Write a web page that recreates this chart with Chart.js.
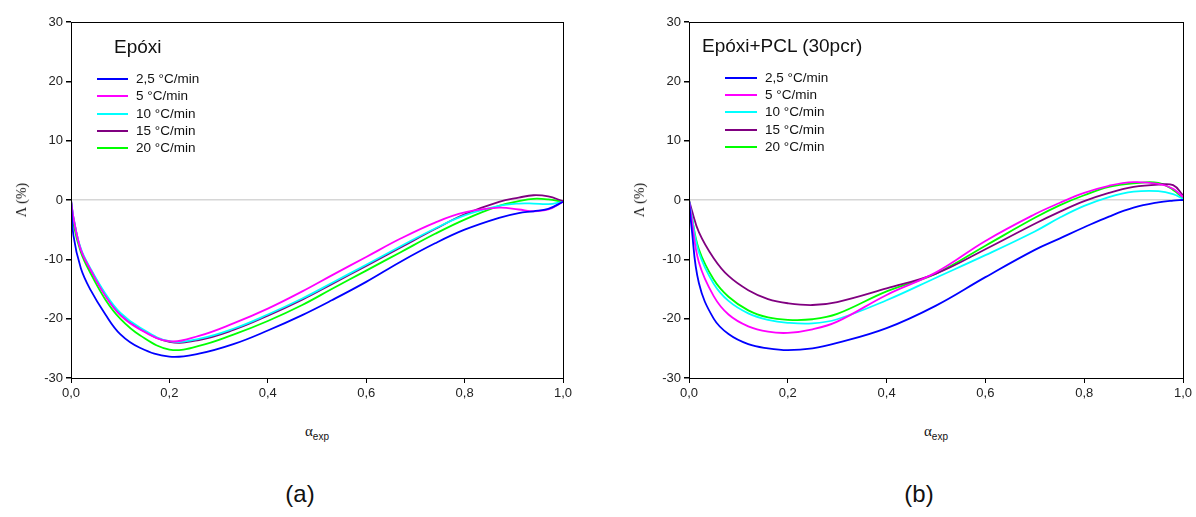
<!DOCTYPE html>
<html>
<head>
<meta charset="utf-8">
<script src="https://cdn.jsdelivr.net/npm/chart.js@4.4.0/dist/chart.umd.min.js"></script>
<style>
  body { margin: 0; background: #fff; font-family: "Liberation Sans", Arial, sans-serif; }
  #wrap { position: relative; width: 1196px; height: 517px; overflow: hidden; }
  canvas { position: absolute; top: 0; }
  .txt { position: absolute; white-space: nowrap; color: #111; line-height: 1; }
  .ytitle { font-family: "Liberation Serif", "DejaVu Serif", serif; font-size: 14px; transform: translate(-50%, -50%) rotate(-90deg); }
  .xtitle { font-family: "Liberation Serif", serif; font-size: 15px; transform: translateX(-50%); }
  .xtitle sub { font-family: "Liberation Sans", Arial, sans-serif; font-size: 10px; vertical-align: -4px; }
  .panel { font-size: 24px; transform: translateX(-50%); }
  .ltitle { font-size: 19px; transform: translateY(-50%); }
  .lrow { position: absolute; font-size: 13.5px; white-space: nowrap; color: #111; }
  .lrow span { position: absolute; top: 50%; height: 2px; margin-top: -1px; }
</style>
</head>
<body>
<div id="wrap">
  <canvas id="chartA" width="598" height="400" style="left:0"></canvas>
  <canvas id="chartB" width="598" height="400" style="left:598px"></canvas>
</div>
<script>
// series names and colours
const seriesLabels = ["2,5 °C/min", "5 °C/min", "10 °C/min", "15 °C/min", "20 °C/min"];
const seriesColors = ["#0000ff", "#ff00ff", "#00ffff", "#800080", "#00ff00"];

// (a) Epóxi
const alphaA = [0, 0.005, 0.02, 0.04, 0.07, 0.1, 0.14, 0.2, 0.26, 0.33, 0.4, 0.47, 0.53, 0.6, 0.67, 0.74, 0.8, 0.87, 0.91, 0.94, 0.97, 1.0];
const epoxi25 = [0, -6, -11.5, -15.2, -19.3, -22.6, -24.9, -26.4, -25.9, -24.3, -22.0, -19.4, -16.9, -13.8, -10.4, -7.3, -5.0, -3.0, -2.2, -1.9, -1.5, -0.3];
const epoxi5  = [0, -3, -8.4, -11.8, -16.2, -19.4, -21.8, -23.8, -22.9, -20.8, -18.3, -15.4, -12.7, -9.6, -6.5, -3.8, -2.1, -1.3, -1.6, -1.9, -1.6, -0.3];
const epoxi10 = [0, -3, -8.2, -11.6, -15.8, -19.0, -21.5, -23.8, -23.4, -21.7, -19.3, -16.6, -14.0, -10.9, -7.8, -4.8, -2.6, -1.0, -0.6, -0.6, -0.7, -0.3];
const epoxi15 = [0, -3, -8.4, -11.8, -16.0, -19.2, -21.7, -23.9, -23.6, -21.9, -19.5, -16.8, -14.2, -11.1, -8.0, -4.9, -2.4, -0.3, 0.4, 0.8, 0.6, -0.2];
const epoxi20 = [0, -4, -8.8, -12.4, -16.8, -20.0, -22.8, -25.2, -24.6, -22.7, -20.4, -17.7, -15.0, -11.9, -8.8, -5.7, -3.3, -1.0, -0.2, 0.2, 0.1, -0.3];

// (b) Epóxi+PCL (30pcr)
const alphaB = [0, 0.005, 0.02, 0.05, 0.08, 0.12, 0.16, 0.2, 0.25, 0.3, 0.4, 0.5, 0.6, 0.7, 0.75, 0.8, 0.85, 0.9, 0.95, 0.98, 1.0];
const pcl25 = [0, -4.5, -14.0, -20.0, -22.6, -24.3, -25.0, -25.3, -25.0, -24.1, -21.6, -17.8, -13.0, -8.4, -6.5, -4.6, -2.8, -1.3, -0.4, -0.1, 0];
const pcl5  = [0, -3, -10.5, -16.2, -19.3, -21.3, -22.2, -22.4, -21.8, -20.5, -16.0, -12.2, -6.9, -2.4, -0.5, 1.2, 2.4, 3.0, 2.7, 1.9, 0.5];
const pcl10 = [0, -2.5, -8.8, -14.1, -17.0, -19.1, -20.2, -20.7, -20.8, -20.1, -16.9, -13.1, -9.3, -5.3, -3.0, -1.0, 0.5, 1.4, 1.5, 1.0, 0.2];
const pcl15 = [0, -1.5, -5.4, -9.8, -12.8, -15.2, -16.7, -17.4, -17.7, -17.2, -14.9, -12.4, -8.3, -4.0, -2.0, -0.2, 1.2, 2.2, 2.6, 2.5, 0.8];
const pcl20 = [0, -2.5, -8.3, -13.4, -16.3, -18.6, -19.8, -20.2, -20.1, -19.2, -15.4, -12.4, -7.7, -3.0, -0.9, 0.8, 2.2, 2.8, 2.9, 1.7, 0.3];

const xTicks = [0, 0.2, 0.4, 0.6, 0.8, 1.0];
const yTicks = [-30, -20, -10, 0, 10, 20, 30];

const panels = [
  { id: "chartA", left: 0, title: "Epóxi", tag: "(a)", alpha: alphaA, series: [epoxi25, epoxi5, epoxi10, epoxi15, epoxi20],
    yWidth: 71, padRight: 35, legTitle: [114, 46], legLine: [97, 31], legText: 136, legRows: [79, 96, 114, 131, 148] },
  { id: "chartB", left: 598, title: "Epóxi+PCL (30pcr)", tag: "(b)", alpha: alphaB, series: [pcl25, pcl5, pcl10, pcl15, pcl20],
    yWidth: 91, padRight: 13, legTitle: [702, 45], legLine: [725, 32], legText: 765, legRows: [78, 95, 112, 130, 147] }
];

// box round the plot area
const framePlugin = {
  id: "frame",
  afterDraw(chart) {
    const a = chart.chartArea, c = chart.ctx;
    c.save();
    c.strokeStyle = "#000";
    c.lineWidth = 1;
    c.strokeRect(Math.round(a.left) + 0.5, Math.round(a.top) + 0.5, Math.round(a.right - a.left), Math.round(a.bottom - a.top));
    c.restore();
  }
};

const wrap = document.getElementById("wrap");
function addText(cls, html, x, y) {
  const d = document.createElement("div");
  d.className = "txt " + cls;
  d.innerHTML = html;
  d.style.left = x + "px";
  d.style.top = y + "px";
  wrap.appendChild(d);
  return d;
}

panels.forEach(p => {
  new Chart(document.getElementById(p.id), {
    type: "line",
    data: {
      datasets: p.series.map((vals, i) => ({
        label: seriesLabels[i],
        data: vals.map((v, k) => ({ x: p.alpha[k], y: v })),
        borderColor: seriesColors[i],
        borderWidth: 1.8,
        pointRadius: 0,
        fill: false,
        tension: 0.4
      }))
    },
    options: {
      responsive: false,
      animation: false,
      layout: { padding: { top: 22, right: p.padRight, left: 0, bottom: 0 } },
      plugins: { legend: { display: false }, tooltip: { enabled: false } },
      scales: {
        x: {
          type: "linear", min: 0, max: 1,
          afterBuildTicks: s => { s.ticks = xTicks.map(v => ({ value: v })); },
          afterFit: s => { s.height = 22; },
          ticks: { color: "#222", font: { family: "Liberation Sans", size: 13 }, padding: 3, maxRotation: 0,
            callback: v => v.toFixed(1).replace(".", ",") },
          grid: { drawOnChartArea: false, tickLength: 5, tickColor: "#000" },
          border: { color: "#000" }
        },
        y: {
          min: -30, max: 30,
          afterBuildTicks: s => { s.ticks = yTicks.map(v => ({ value: v })); },
          afterFit: s => { s.width = p.yWidth; },
          ticks: { color: "#222", font: { family: "Liberation Sans", size: 13 }, padding: 3 },
          grid: { color: ctx => (ctx.tick && ctx.tick.value === 0 ? "#d6d6d6" : "rgba(0,0,0,0)"), lineWidth: 1.5, tickLength: 5, tickColor: "#000" },
          border: { color: "#000" }
        }
      }
    },
    plugins: [framePlugin]
  });

  const plotL = p.left + p.yWidth, plotR = p.left + 598 - p.padRight;
  const mid = (plotL + plotR) / 2;

  addText("ytitle", "&Lambda; (%)", plotL - 49, 200);
  addText("xtitle", "&alpha;<sub>exp</sub>", mid, 424);
  addText("panel", p.tag, mid - 17, 482);
  addText("ltitle", p.title, p.legTitle[0], p.legTitle[1]);

  seriesLabels.forEach((lab, i) => {
    const row = document.createElement("div");
    row.className = "lrow";
    row.style.left = p.legLine[0] + "px";
    row.style.top = (p.legRows[i] - 8) + "px";
    row.style.height = "16px";
    row.style.lineHeight = "16px";
    row.style.paddingLeft = (p.legText - p.legLine[0]) + "px";
    const sw = document.createElement("span");
    sw.style.left = "0px";
    sw.style.width = p.legLine[1] + "px";
    sw.style.background = seriesColors[i];
    row.appendChild(sw);
    row.appendChild(document.createTextNode(lab));
    wrap.appendChild(row);
  });
});
</script>
</body>
</html>
